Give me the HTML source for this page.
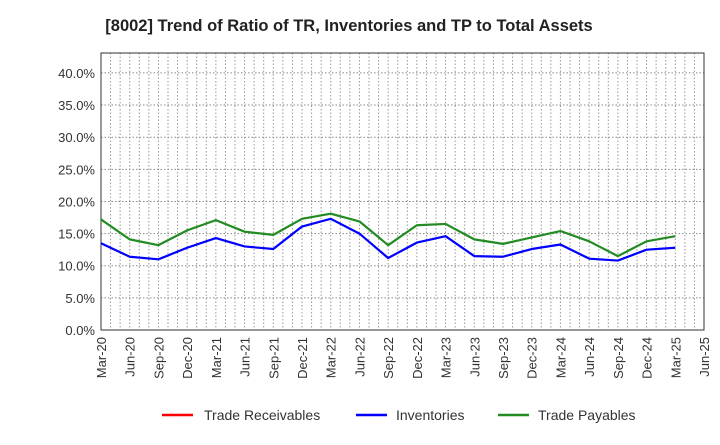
<!DOCTYPE html>
<html><head><meta charset="utf-8"><style>
body{margin:0;background:#fff;}
svg text{font-family:"Liberation Sans",Arial,sans-serif;}
</style></head><body>
<svg id="chart" width="720" height="440" xmlns="http://www.w3.org/2000/svg">
<text x="349" y="31" text-anchor="middle" font-size="16.5" font-weight="bold" fill="#222">[8002]  Trend of Ratio of TR, Inventories and TP to Total Assets</text>
<g id="grid"></g>
<g id="axes"></g>
<g id="series"></g>
<g>
<line x1="162" y1="415" x2="193" y2="415" stroke="#ff0000" stroke-width="2.5"/>
<text x="204" y="420" font-size="14" fill="#333">Trade Receivables</text>
<line x1="356" y1="415" x2="387" y2="415" stroke="#0000ff" stroke-width="2.5"/>
<text x="396" y="420" font-size="14" fill="#333">Inventories</text>
<line x1="498" y1="415" x2="529" y2="415" stroke="#228b22" stroke-width="2.5"/>
<text x="538" y="420" font-size="14" fill="#333">Trade Payables</text>
</g>
</svg>
<script>
const categories=["Mar-20","Jun-20","Sep-20","Dec-20","Mar-21","Jun-21","Sep-21","Dec-21","Mar-22","Jun-22","Sep-22","Dec-22","Mar-23","Jun-23","Sep-23","Dec-23","Mar-24","Jun-24","Sep-24","Dec-24","Mar-25","Jun-25"];
const tradeReceivables=[];
const inventories=[13.5,11.4,11.0,12.8,14.3,13.0,12.6,16.1,17.3,15.0,11.2,13.6,14.6,11.5,11.4,12.6,13.3,11.1,10.8,12.5,12.8];
const tradePayables=[17.2,14.1,13.2,15.5,17.1,15.3,14.8,17.3,18.1,16.9,13.2,16.3,16.5,14.1,13.4,14.4,15.4,13.8,11.5,13.8,14.6];
const yTicks=[0,5,10,15,20,25,30,35,40];
const yTickLabels=["0.0%","5.0%","10.0%","15.0%","20.0%","25.0%","30.0%","35.0%","40.0%"];

const L=101,R=704,T=53,B=330,yMax=43.1;
const NS="http://www.w3.org/2000/svg";
const xs=i=>L+(R-L)*i/(categories.length-1);
const ys=v=>B-(B-T)*v/yMax;
function mk(tag,attrs,parent){const e=document.createElementNS(NS,tag);for(const k in attrs)e.setAttribute(k,attrs[k]);parent.appendChild(e);return e;}
const grid=document.getElementById('grid'),axes=document.getElementById('axes'),series=document.getElementById('series');
const months=(categories.length-1)*3;
for(let m=0;m<=months;m++){
  const x=L+(R-L)*m/months;
  const g=mk('line',{x1:x,y1:T,x2:x,y2:B,stroke:'#999','stroke-width':1,'stroke-dasharray':'1.5,2'},grid);
  
  
}
yTicks.forEach((v,i)=>{
  const y=ys(v);
  const g=mk('line',{x1:L,y1:y,x2:R,y2:y,stroke:'#888','stroke-width':1,'stroke-dasharray':'1.5,2'},grid);
  
  
  const t=mk('text',{x:L-6,y:y+5,'text-anchor':'end','font-size':13,fill:'#333'},axes);
  t.textContent=yTickLabels[i];
  
  
});
categories.forEach((c,i)=>{
  const x=xs(i);
  const t=mk('text',{x:0,y:0,'text-anchor':'end','font-size':13,fill:'#333',transform:`translate(${x+5},${B+7}) rotate(-90)`},axes);
  t.textContent=c;
  
  
});
const fr=mk('rect',{x:L,y:T,width:R-L,height:B-T,fill:'none',stroke:'#333','stroke-width':1},axes);


function line(vals,color,name){
  if(!vals.length)return;
  const p=mk('polyline',{points:vals.map((v,i)=>xs(i)+','+ys(v)).join(' '),fill:'none',stroke:color,'stroke-width':2.2,'stroke-linejoin':'round'},series);
  
  
}
line(tradeReceivables,'#ff0000','trade-receivables-line');
line(inventories,'#0000ff','inventories-line');
line(tradePayables,'#228b22','trade-payables-line');
</script>
</body></html>
